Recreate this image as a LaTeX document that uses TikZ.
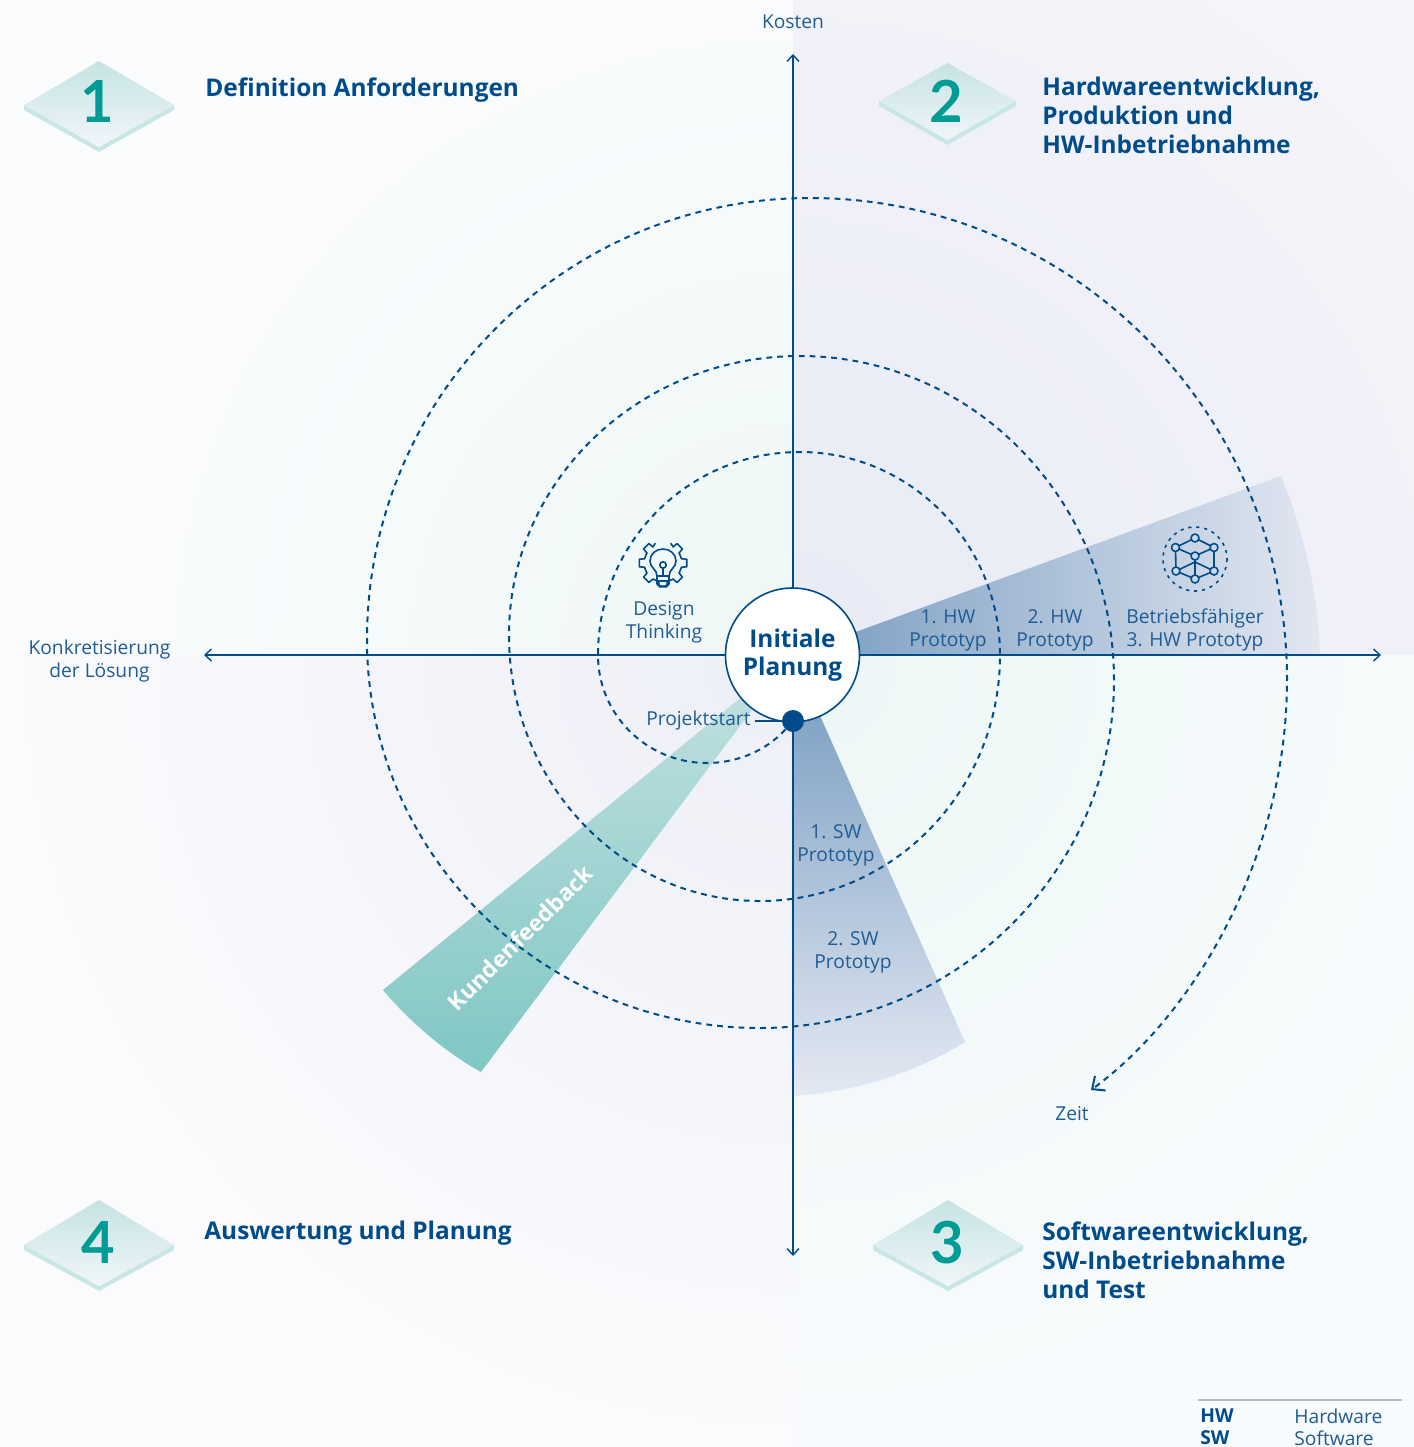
\documentclass[tikz,border=0pt]{standalone}
\usepackage{fontspec}
\setmainfont{Open Sans}
\newfontfamily\numfont{Lato}
\usetikzlibrary{arrows.meta,calc}
\definecolor{navy}{HTML}{004C8A}
\definecolor{txt}{HTML}{1F5C94}
\definecolor{tealnum}{HTML}{009B94}
\tikzset{
 x=0.5pt,y=-0.5pt,
 body/.style={text=txt,align=center,inner sep=0pt,font=\fontsize{9.6}{11.5}\selectfont},
 head/.style={text=navy,align=left,anchor=north west,inner sep=0pt,font=\fontsize{12.2}{14.5}\selectfont\bfseries},
 num/.style={text=tealnum,inner sep=0pt,font=\numfont\fontsize{29}{30}\selectfont\bfseries},
 axis/.style={navy,line width=0.7pt,{Straight Barb[length=3.2pt,width=6pt,line width=.7pt]}-{Straight Barb[length=3.2pt,width=6pt,line width=.7pt]}},
 spiral/.style={navy,line width=1pt,dash pattern=on 2.9pt off 2.5pt},
 icon/.style={navy,line width=.8pt,line cap=round,line join=round},
}
% cx, top y, half width, mid y, bottom y of top face
\newcommand{\tile}[5]{%
 \fill[fill={rgb,255:red,200;green,230;blue,229}] (#1-#3,#4) -- (#1,#5) -- (#1+#3,#4) -- (#1+#3,#4+5) -- (#1,#5+5) -- (#1-#3,#4+5) -- cycle;
 \shade[top color={rgb,255:red,197;green,227;blue,227},bottom color={rgb,255:red,241;green,246;blue,250}] (#1,#2) -- (#1+#3,#4) -- (#1,#5) -- (#1-#3,#4) -- cycle;
}
\begin{document}
\begin{tikzpicture}
\useasboundingbox (0,0) rectangle (1414,1447);
\coordinate (C) at (793,655);
% background quadrants
\begin{scope}\clip (0,0) rectangle (793,655);
 \fill[fill={rgb,255:red,251;green,252;blue,254}] (0,0) rectangle (793,655);
 \shade[inner color={rgb,255:red,238;green,247;blue,246},outer color={rgb,255:red,251;green,252;blue,254}] (C) circle (760);
\end{scope}
\begin{scope}\clip (793,0) rectangle (1414,655);
 \fill[fill={rgb,255:red,244;green,244;blue,250}] (793,0) rectangle (1414,655);
 \shade[inner color={rgb,255:red,232;green,235;blue,245},outer color={rgb,255:red,244;green,244;blue,250}] (C) circle (800);
\end{scope}
\begin{scope}\clip (0,655) rectangle (793,1447);
 \fill[fill={rgb,255:red,251;green,251;blue,253}] (0,655) rectangle (793,1447);
 \shade[inner color={rgb,255:red,237;green,239;blue,247},outer color={rgb,255:red,251;green,251;blue,253}] (C) circle (800);
\end{scope}
\begin{scope}\clip (793,655) rectangle (1414,1447);
 \fill[fill={rgb,255:red,248;green,251;blue,253}] (793,655) rectangle (1414,1447);
 \shade[inner color={rgb,255:red,237;green,247;blue,246},outer color={rgb,255:red,248;green,251;blue,253}] (C) circle (800);
\end{scope}
% wedges
\shade[left color={rgb,255:red,120;green,156;blue,192},right color={rgb,255:red,226;green,231;blue,241}]
 (C) -- (1281,476) .. controls (1303,530) and (1318,590) .. (1320,655) -- cycle;
\shade[top color={rgb,255:red,115;green,153;blue,190},bottom color={rgb,255:red,228;green,233;blue,243}]
 (C) -- (793,1096) .. controls (855,1092) and (915,1073) .. (965,1042) -- cycle;
\shade[shading angle=-40,top color={rgb,255:red,195;green,225;blue,225},bottom color={rgb,255:red,128;green,199;blue,196}]
 (C) -- (383,990) .. controls (410,1022) and (445,1052) .. (481,1072) -- cycle;
% axes
\coordinate (axT) at (793,54); \coordinate (axB) at (793,1256);
\coordinate (axL) at (204,655); \coordinate (axR) at (1381,655);
\draw[axis] (axB) -- (axT);
\draw[axis] (axL) -- (axR);
% dot, circle
\node[circle,draw=navy,fill=white,line width=.8pt,minimum size=67pt,inner sep=0pt,text=navy,align=center,font=\fontsize{12.2}{14}\selectfont\bfseries] (init) at (792.5,655) {Initiale\\Planung};
\node[circle,fill=navy,minimum size=11pt,inner sep=0pt] (dot) at (793,721) {};
% spiral
\coordinate (zeitend) at (1091,1090);
\draw[spiral,-{Straight Barb[length=5pt,width=9pt,line width=1pt]}] (dot)
 .. controls (765,752) and (735,763) .. (707,763)
 .. controls (647,763) and (598,715) .. (598,655)
 .. controls (598,543) and (688,452) .. (800,452)
 .. controls (910,452) and (1000,543) .. (1000,655)
 .. controls (1000,791) and (893,901) .. (760,901)
 .. controls (621,901) and (509,782) .. (509,635)
 .. controls (509,481) and (639,356) .. (800,356)
 .. controls (973,356) and (1114,501) .. (1114,680)
 .. controls (1114,872) and (955,1028) .. (760,1028)
 .. controls (543,1028) and (367,854) .. (367,640)
 .. controls (367,396) and (565,198) .. (810,198)
 .. controls (1073,198) and (1287,414) .. (1287,680)
 .. controls (1287,850) and (1200,1010) .. (zeitend);
% labels
\node[body] (kosten) at (793,22) {Kosten};
\node[body] (konk) at (99.5,661) {Konkretisierung\\der Lösung};
\node[body] (zeit) at (1072,1114) {Zeit};
\node[body] (dt) at (664,622) {Design\\Thinking};
\node[body,anchor=east] (ps) at (751,721) {Projektstart};
\draw[navy,line width=.6pt] (ps.east)++(4,0) -- (dot);
\node[body] (hw1) at (948,630) {1. HW\\Prototyp};
\node[body] (hw2) at (1055,630) {2. HW\\Prototyp};
\node[body] (hw3) at (1195,630) {Betriebsfähiger\\3. HW Prototyp};
\node[body] (sw1) at (836,845) {1. SW\\Prototyp};
\node[body] (sw2) at (853,952) {2. SW\\Prototyp};
\node[text=white,inner sep=0pt,rotate=45,font=\fontsize{11.5}{13}\selectfont\bfseries] (kf) at (520,938) {Kundenfeedback};
% tiles
\tile{99}{61}{75}{105}{147}
\tile{947.5}{63}{68.5}{101}{140}
\tile{948}{1200}{75}{1245}{1286}
\tile{99}{1200}{75}{1245}{1286}
\node[num] (n1) at (97,101) {1};
\node[num] (n2) at (946,101) {2};
\node[num] (n3) at (947,1243) {3};
\node[num] (n4) at (98,1243) {4};
\node[head] (h1) at (205,77) {Definition Anforderungen};
\node[head] (h2) at (1042,77) {Hardwareentwicklung,\\Produktion und\\HW-Inbetriebnahme};
\node[head] (h3) at (1042,1221) {Softwareentwicklung,\\SW-Inbetriebnahme\\und Test};
\node[head] (h4) at (204,1221) {Auswertung und Planung};
% gear icon
\begin{scope}[shift={(663,563)}]
 \foreach \a in {-45,0,45,90,135,180,225}{
  \draw[icon] (\a-13:19) -- (\a-9:24) -- (\a+9:24) -- (\a+13:19);
 }
 \foreach \a in {-45,0,45,90,135,180}{
  \draw[icon] (\a+13:19) -- (\a+32:19);
 }
 \draw[icon] (-58:19) -- (-68:21);
 \draw[icon] (238:19) -- (248:21);
 \draw[icon] (-6,13) .. controls (-6,6) and (-13,5) .. (-13,-2) .. controls (-13,-9) and (-7,-14) .. (0,-14) .. controls (7,-14) and (13,-9) .. (13,-2) .. controls (13,5) and (6,6) .. (6,13) -- cycle;
 \draw[icon] (0,2) circle (3.2);
 \draw[icon] (0,5) -- (0,13);
 \draw[icon] (-6,18) -- (6,18);
 \draw[icon] (-6,13) -- (-6,21) .. controls (-6,24) and (6,24) .. (6,21) -- (6,13);
\end{scope}
% cube icon
\begin{scope}[shift={(1195,559)}]
 \draw[navy,line width=.8pt,dash pattern=on 1.6pt off 2.4pt] (0,0) circle (32);
 \coordinate (t) at (0,-21); \coordinate (ul) at (-19.5,-11.5); \coordinate (ur) at (19,-11.5);
 \coordinate (m) at (0,-3); \coordinate (ll) at (-19,12); \coordinate (lr) at (19,12); \coordinate (b) at (0,20); \coordinate (bk) at (0,3);
 \draw[icon] (t)--(ul) (t)--(ur) (ul)--(m) (ur)--(m) (ul)--(ll) (ur)--(lr) (m)--(b) (ll)--(b) (lr)--(b) (ll)--(bk) (lr)--(bk);
 \foreach \p in {t,ul,ur,m,ll,lr,b}{\filldraw[icon,fill={rgb,255:red,205;green,215;blue,232}] (\p) circle (4);}
\end{scope}
% legend
\coordinate (lgA) at (1198,1400); \coordinate (lgB) at (1402,1400);
\draw[color={rgb,255:red,182;green,186;blue,188},line width=.6pt] (lgA) -- (lgB);
\node[body,anchor=west,text=navy,font=\fontsize{9.6}{11.5}\selectfont\bfseries] (hwk) at (1200,1416) {HW};
\node[body,anchor=west,text=navy,font=\fontsize{9.6}{11.5}\selectfont\bfseries] (swk) at (1200,1438) {SW};
\node[body,anchor=west] (hwv) at (1294,1416) {Hardware};
\node[body,anchor=west] (swv) at (1294,1438) {Software};
\end{tikzpicture}
\end{document}
